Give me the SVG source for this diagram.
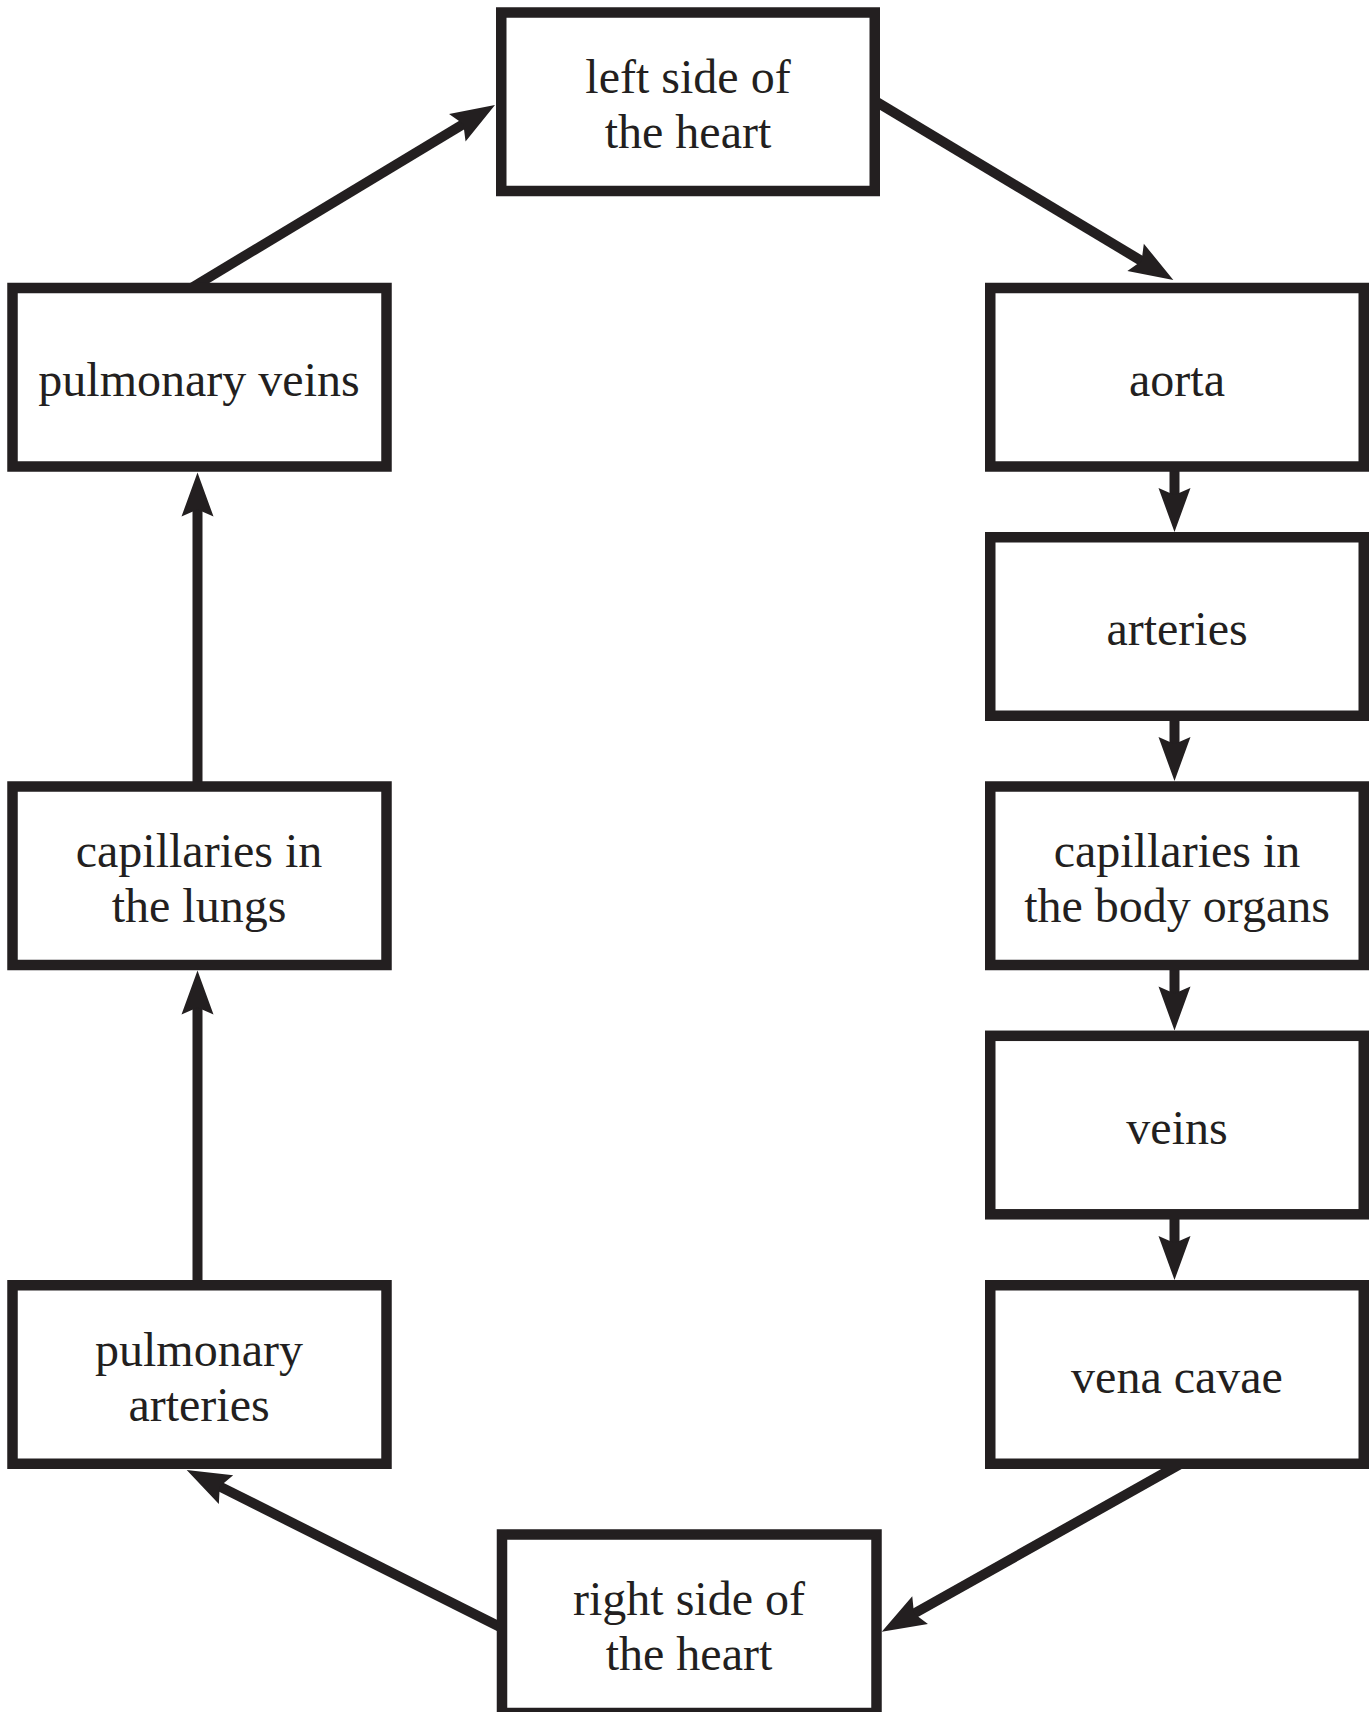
<svg xmlns="http://www.w3.org/2000/svg" width="1372" height="1712" viewBox="0 0 1372 1712">
  <style>
    .box { fill: #ffffff; stroke: #231f20; stroke-width: 10.5; }
    .lbl { font-family: "Liberation Serif", "Times New Roman", serif; font-size: 48px; fill: #231f20; text-anchor: middle; }
    .conn { stroke: #231f20; stroke-width: 10; fill: none; marker-end: url(#arrow); }
  </style>
  <defs>
    <marker id="arrow" markerUnits="userSpaceOnUse" viewBox="-46 -18 50 36" markerWidth="50" markerHeight="36" refX="-30" refY="0" orient="auto">
      <path d="M0,0 L-44,-16 L-37,0 L-44,16 Z" fill="#231f20"/>
    </marker>
  </defs>
  <rect width="1372" height="1712" fill="#ffffff"/>

  <g id="connectors">
    <line class="conn" x1="191" y1="288.2" x2="469.3" y2="120.5"/>
    <line class="conn" x1="873.1" y1="99.9" x2="1147.6" y2="264.6"/>
    <line class="conn" x1="1174.5" y1="471" x2="1174.5" y2="502"/>
    <line class="conn" x1="1174.5" y1="720" x2="1174.5" y2="751"/>
    <line class="conn" x1="1174.5" y1="969.5" x2="1174.5" y2="1000.5"/>
    <line class="conn" x1="1174.5" y1="1219" x2="1174.5" y2="1250"/>
    <line class="conn" x1="1183.7" y1="1462.1" x2="907.9" y2="1617"/>
    <line class="conn" x1="503.6" y1="1628.8" x2="213.5" y2="1483.4"/>
    <line class="conn" x1="197.5" y1="1281" x2="197.5" y2="1000.5"/>
    <line class="conn" x1="197.5" y1="782" x2="197.5" y2="502.5"/>
  </g>

  <g id="left-heart">
    <rect class="box" x="501.25" y="12.5" width="373.5" height="178.5"/>
    <text class="lbl" x="688" y="92.8">left side of</text>
    <text class="lbl" x="688" y="147.8">the heart</text>
  </g>
  <g id="aorta">
    <rect class="box" x="990.25" y="288" width="373.5" height="178.5"/>
    <text class="lbl" x="1177" y="395.7">aorta</text>
  </g>
  <g id="arteries">
    <rect class="box" x="990.25" y="537.25" width="373.5" height="178.5"/>
    <text class="lbl" x="1177" y="645">arteries</text>
  </g>
  <g id="capillaries-body">
    <rect class="box" x="990.25" y="786.5" width="373.5" height="178.5"/>
    <text class="lbl" x="1177" y="866.8">capillaries in</text>
    <text class="lbl" x="1177" y="921.8">the body organs</text>
  </g>
  <g id="veins">
    <rect class="box" x="990.25" y="1035.8" width="373.5" height="178.5"/>
    <text class="lbl" x="1177" y="1143.6">veins</text>
  </g>
  <g id="vena-cavae">
    <rect class="box" x="990.25" y="1285.25" width="373.5" height="178.5"/>
    <text class="lbl" x="1177" y="1393">vena cavae</text>
  </g>
  <g id="right-heart">
    <rect class="box" x="502" y="1534.5" width="374.5" height="178.5"/>
    <text class="lbl" x="689" y="1614.8">right side of</text>
    <text class="lbl" x="689" y="1669.8">the heart</text>
  </g>
  <g id="pulmonary-arteries">
    <rect class="box" x="12.5" y="1285.25" width="374" height="178.5"/>
    <text class="lbl" x="199" y="1365.5">pulmonary</text>
    <text class="lbl" x="199" y="1420.5">arteries</text>
  </g>
  <g id="capillaries-lungs">
    <rect class="box" x="12.5" y="786.5" width="374" height="178.5"/>
    <text class="lbl" x="199" y="866.8">capillaries in</text>
    <text class="lbl" x="199" y="921.8">the lungs</text>
  </g>
  <g id="pulmonary-veins">
    <rect class="box" x="12.5" y="288" width="374" height="178.5"/>
    <text class="lbl" x="199" y="395.7">pulmonary veins</text>
  </g>
</svg>
